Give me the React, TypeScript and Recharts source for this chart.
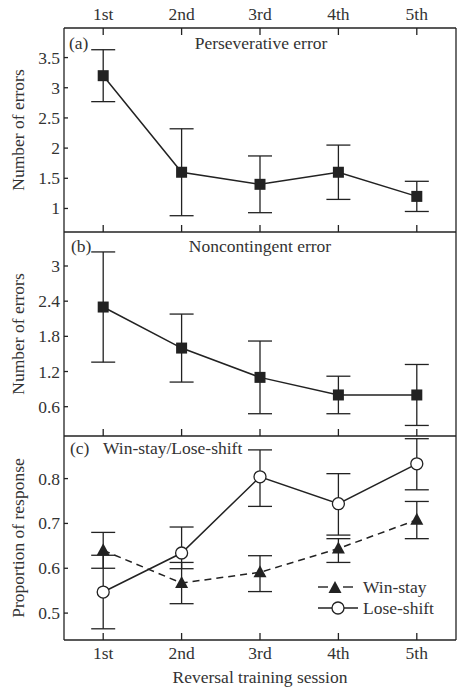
import React from 'react';
import { LineChart, Line, XAxis, YAxis, ErrorBar, Legend } from 'recharts';

const sessions = ['1st', '2nd', '3rd', '4th', '5th'];

// (a) perseverative errors, mean ± SEM
const perseverative = [3.2, 1.6, 1.4, 1.6, 1.2];
const perseverativeErr = [0.43, 0.72, 0.47, 0.45, 0.25];

// (b) noncontingent errors
const noncontingent = [2.3, 1.6, 1.1, 0.8, 0.8];
const noncontingentErr = [0.94, 0.58, 0.62, 0.32, 0.52];

// (c) proportions, errors as [below, above]
const winStay = [0.64, 0.567, 0.591, 0.644, 0.708];
const winStayErr = [[0.04, 0.04], [0.046, 0.046], [0.043, 0.037], [0.031, 0.022], [0.042, 0.041]];
const loseShift = [0.547, 0.634, 0.804, 0.744, 0.833];
const loseShiftErr = [[0.082, 0.082], [0.035, 0.058], [0.066, 0.06], [0.07, 0.067], [0.058, 0.056]];

const ticksA = [1, 1.5, 2, 2.5, 3, 3.5];
const ticksB = [0.6, 1.2, 1.8, 2.4, 3];
const ticksC = [0.5, 0.6, 0.7, 0.8];

const dataA = sessions.map((s, i) => ({ x: i + 1, value: perseverative[i], err: perseverativeErr[i] }));
const dataB = sessions.map((s, i) => ({ x: i + 1, value: noncontingent[i], err: noncontingentErr[i] }));
const dataC = sessions.map((s, i) => ({
  x: i + 1,
  win: winStay[i],
  winErr: winStayErr[i],
  lose: loseShift[i],
  loseErr: loseShiftErr[i],
}));

const INK = '#222';
const TEXT = '#333';
const FONT = '"Liberation Serif", "Times New Roman", serif';
const FS = 17.5;
const W = 466;
const MARGIN_RIGHT = 10;
const Y_W = 64;
const X_DOMAIN = [0.5, 5.5];
const X_TICKS = [1, 2, 3, 4, 5];
const AXIS = { stroke: INK, strokeWidth: 1.3 };

const txt = { fill: TEXT, fontFamily: FONT, fontSize: FS };

// x ticks point inward; labels optional
const topTick = (labels: boolean) => (props: any) => {
  const { x, y, payload } = props;
  return (
    <g>
      <line x1={x} x2={x} y1={y} y2={y + 7} stroke={INK} strokeWidth={1.3} />
      {labels && (
        <text x={x} y={y - 14} textAnchor="middle" dominantBaseline="central" {...txt}>
          {sessions[payload.value - 1]}
        </text>
      )}
    </g>
  );
};

const bottomTick = (labels: boolean) => (props: any) => {
  const { x, y, payload } = props;
  return (
    <g>
      <line x1={x} x2={x} y1={y} y2={y - 7} stroke={INK} strokeWidth={1.3} />
      {labels && (
        <text x={x} y={y + 13} textAnchor="middle" dominantBaseline="central" {...txt}>
          {sessions[payload.value - 1]}
        </text>
      )}
    </g>
  );
};

const leftTick = (props: any) => {
  const { x, y, payload } = props;
  return (
    <g>
      <line x1={x} x2={x + 4} y1={y} y2={y} stroke={INK} strokeWidth={1.3} />
      <text x={x - 4} y={y} textAnchor="end" dominantBaseline="central" {...txt}>
        {String(payload.value)}
      </text>
    </g>
  );
};

const yTitle = (value: string) => (props: any) => {
  const { viewBox } = props;
  const cy = viewBox.y + viewBox.height / 2;
  return (
    <text
      x={18}
      y={cy}
      transform={`rotate(-90 18 ${cy})`}
      textAnchor="middle"
      dominantBaseline="central"
      {...txt}
    >
      {value}
    </text>
  );
};

const xTitle = (props: any) => {
  const { viewBox } = props;
  return (
    <text x={viewBox.x + viewBox.width / 2} y={viewBox.y + 37} textAnchor="middle" dominantBaseline="central" {...txt}>
      Reversal training session
    </text>
  );
};

const squareDot = (p: any) => (
  <rect key={`sq-${p.index}`} x={p.cx - 5.5} y={p.cy - 5.5} width={11} height={11} fill={INK} />
);

const triPath = (cx: number, cy: number) => `M${cx},${cy - 7} L${cx + 6.5},${cy + 5} L${cx - 6.5},${cy + 5} Z`;

const triangleDot = (p: any) => <path key={`tr-${p.index}`} d={triPath(p.cx, p.cy)} fill={INK} />;

const circleDot = (p: any) => (
  <circle key={`ci-${p.index}`} cx={p.cx} cy={p.cy} r={6} fill="#fff" stroke={INK} strokeWidth={1.3} />
);

const renderLegend = () => (
  <svg width={140} height={44} style={{ overflow: 'visible' }}>
    <line x1={2} x2={12} y1={11} y2={11} stroke={INK} strokeWidth={1.4} />
    <path d={triPath(19, 12)} fill={INK} />
    <line x1={27} x2={37} y1={11} y2={11} stroke={INK} strokeWidth={1.4} />
    <text x={47} y={11} dominantBaseline="central" {...txt}>Win-stay</text>
    <line x1={2} x2={42} y1={32} y2={32} stroke={INK} strokeWidth={1.4} />
    <circle cx={22} cy={32} r={6} fill="#fff" stroke={INK} strokeWidth={1.3} />
    <text x={47} y={32} dominantBaseline="central" {...txt}>Lose-shift</text>
  </svg>
);

const frameRight = (
  <YAxis yAxisId="r" orientation="right" width={1} tick={false} tickLine={false} axisLine={AXIS} domain={[0, 1]} />
);

export default function App() {
  return (
    <div style={{ position: 'fixed', left: 0, top: 0, width: W, height: 687, background: '#fff', overflow: 'hidden' }}>
      {/* (a) Perseverative error */}
      <div style={{ position: 'absolute', left: 0, top: 0 }}>
        <LineChart width={W} height={236} data={dataA} margin={{ top: 0, right: MARGIN_RIGHT - 1, bottom: 3, left: 0 }}>
          <XAxis xAxisId="t" orientation="top" type="number" dataKey="x" domain={X_DOMAIN} ticks={X_TICKS} allowDataOverflow
            height={28} tickSize={0} tickMargin={0} tickLine={false} interval={0} tick={topTick(true)} axisLine={AXIS} />
          <XAxis xAxisId="b" orientation="bottom" type="number" dataKey="x" domain={X_DOMAIN} ticks={X_TICKS} allowDataOverflow
            height={1} tickSize={0} tickMargin={0} tickLine={false} interval={0} tick={bottomTick(false)} axisLine={AXIS} />
          <YAxis yAxisId="l" width={Y_W} domain={[0.61, 3.99]} ticks={ticksA} allowDataOverflow interval={0}
            tickSize={0} tickMargin={0} tickLine={false} tick={leftTick} axisLine={AXIS}
            label={yTitle('Number of errors')} />
          {frameRight}
          <Line xAxisId="t" yAxisId="l" dataKey="value" stroke={INK} strokeWidth={1.5} dot={squareDot} activeDot={false} isAnimationActive={false}>
            <ErrorBar dataKey="err" width={12} stroke={INK} strokeWidth={1.3} direction="y" />
          </Line>
        </LineChart>
      </div>

      {/* (b) Noncontingent error */}
      <div style={{ position: 'absolute', left: 0, top: 228 }}>
        <LineChart width={W} height={212} data={dataB} margin={{ top: 4, right: MARGIN_RIGHT - 1, bottom: 3, left: 0 }}>
          <XAxis xAxisId="b" orientation="bottom" type="number" dataKey="x" domain={X_DOMAIN} ticks={X_TICKS} allowDataOverflow
            height={1} tickSize={0} tickMargin={0} tickLine={false} interval={0} tick={bottomTick(false)} axisLine={AXIS} />
          <YAxis yAxisId="l" width={Y_W} domain={[0.1, 3.58]} ticks={ticksB} allowDataOverflow interval={0}
            tickSize={0} tickMargin={0} tickLine={false} tick={leftTick} axisLine={AXIS}
            label={yTitle('Number of errors')} />
          {frameRight}
          <Line xAxisId="b" yAxisId="l" dataKey="value" stroke={INK} strokeWidth={1.5} dot={squareDot} activeDot={false} isAnimationActive={false}>
            <ErrorBar dataKey="err" width={12} stroke={INK} strokeWidth={1.3} direction="y" />
          </Line>
        </LineChart>
      </div>

      {/* (c) Win-stay / Lose-shift */}
      <div style={{ position: 'absolute', left: 0, top: 432 }}>
        <LineChart width={W} height={255} data={dataC} margin={{ top: 4, right: MARGIN_RIGHT - 1, bottom: 0, left: 0 }}>
          <XAxis xAxisId="b" orientation="bottom" type="number" dataKey="x" domain={X_DOMAIN} ticks={X_TICKS} allowDataOverflow
            height={47} tickSize={0} tickMargin={0} tickLine={false} interval={0} tick={bottomTick(true)} axisLine={AXIS}
            label={xTitle} />
          <YAxis yAxisId="l" width={Y_W} domain={[0.44, 0.895]} ticks={ticksC} allowDataOverflow interval={0}
            tickSize={0} tickMargin={0} tickLine={false} tick={leftTick} axisLine={AXIS}
            label={yTitle('Proportion of response')} />
          {frameRight}
          <Line xAxisId="b" yAxisId="l" dataKey="lose" stroke={INK} strokeWidth={1.5} dot={circleDot} activeDot={false} isAnimationActive={false}>
            <ErrorBar dataKey="loseErr" width={12} stroke={INK} strokeWidth={1.3} direction="y" />
          </Line>
          <Line xAxisId="b" yAxisId="l" dataKey="win" stroke={INK} strokeWidth={1.5} strokeDasharray="7 5" dot={triangleDot} activeDot={false} isAnimationActive={false}>
            <ErrorBar dataKey="winErr" width={12} stroke={INK} strokeWidth={1.3} direction="y" />
          </Line>
          <Legend layout="vertical" align="center" verticalAlign="middle" content={renderLegend}
            wrapperStyle={{ left: 316, top: 144, width: 140, height: 44 }} />
        </LineChart>
      </div>

      {/* panel captions */}
      <svg width={W} height={687} style={{ position: 'absolute', left: 0, top: 0, pointerEvents: 'none' }}>
        <text x={69} y={43} dominantBaseline="central" {...txt}>(a)</text>
        <text x={261} y={43} textAnchor="middle" dominantBaseline="central" {...txt}>Perseverative error</text>
        <text x={71} y={246} dominantBaseline="central" {...txt}>(b)</text>
        <text x={260} y={246} textAnchor="middle" dominantBaseline="central" {...txt}>Noncontingent error</text>
        <text x={70} y={448} dominantBaseline="central" {...txt}>(c)</text>
        <text x={103} y={448} dominantBaseline="central" {...txt}>Win-stay/Lose-shift</text>
      </svg>
    </div>
  );
}
